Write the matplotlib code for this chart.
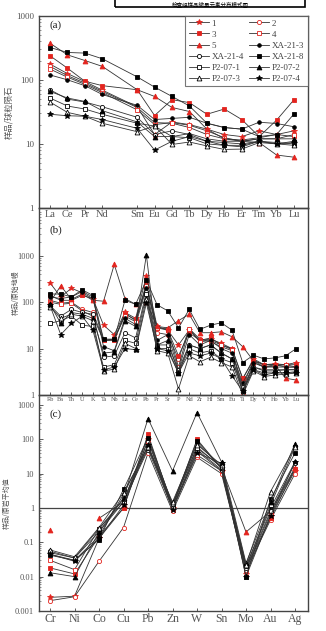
import numpy as np
import matplotlib
matplotlib.use('Agg')
import matplotlib.pyplot as plt
from matplotlib.patches import Rectangle

plt.rcParams['font.family'] = ['Liberation Serif', 'Noto Sans CJK SC', 'DejaVu Sans']

# ---- data ----
samples = ['1', '2', '3', '4', '5', 'XA-21-3', 'XA-21-4', 'XA-21-8',
           'P2-07-1', 'P2-07-2', 'P2-07-3', 'P2-07-4']

ree = ['La', 'Ce', 'Pr', 'Nd', 'Sm', 'Eu', 'Gd', 'Tb', 'Dy', 'Ho', 'Er', 'Tm', 'Yb', 'Lu']
ree_pos = [1, 2, 3, 4, 6, 7, 8, 9, 10, 11, 12, 13, 14, 15]

ree_vals = {
    '1':       [176, 125, 94, 69, 38, 14, 22, 20, 17, 14, 13, 16, 14, 16],
    '2':       [162, 116, 89, 66, 37, 21.5, 21, 18, 14, 12, 11.5, 12.5, 14, 13],
    '3':       [237, 152, 95, 81, 70, 27.7, 49, 44, 29, 35, 24, 13, 23.5, 49],
    '4':       [147, 110, 85, 63, 34, 20, 21.5, 19.5, 16, 12.5, 11, 12, 12, 14],
    '5':       [372, 245, 200, 162, 70, 55, 37, 32, 17, 12, 11, 10.5, 6.7, 6.2],
    'XA-21-3': [119, 100, 81, 59, 40, 24, 25, 26, 21, 18, 17, 21.8, 20.8, 18.5],
    'XA-21-4': [70, 50, 45, 38, 26, 14, 16, 14, 11, 10.5, 10, 11, 10, 11],
    'XA-21-8': [319, 267, 261, 213, 111, 77, 55, 39, 21, 18, 17, 13, 14, 29.5],
    'P2-07-1': [52, 39, 35, 29, 21, 19, 13, 12.5, 10, 9.5, 9, 11, 10.5, 10],
    'P2-07-2': [66, 52, 46, 33, 22, 13, 13, 14.5, 12, 11, 11, 12, 12, 12],
    'P2-07-3': [45, 31, 27, 21, 15.5, 19, 9.8, 10.7, 9.3, 8.2, 8.3, 10.5, 10, 9.5],
    'P2-07-4': [29, 27.5, 27, 24, 17.5, 8, 11, 13, 11, 9.5, 9.5, 11, 10, 10.5],
}

spider = ['Rb', 'Ba', 'Th', 'U', 'K', 'Ta', 'Nb', 'La', 'Ce', 'Pb', 'Pr', 'Sr',
          'P', 'Nd', 'Zr', 'Hf', 'Sm', 'Eu', 'Ti', 'Dy', 'Y', 'Ho', 'Yb', 'Lu']

spider_vals = {
    '1':       [260, 130, 200, 160, 120, 32, 20, 60, 45, 360, 30, 25, 12, 25, 15, 16, 13, 10, 2.2, 6, 4.5, 4.7, 4.5, 5],
    '2':       [110, 95, 100, 70, 60, 15, 16, 58, 40, 230, 22, 20, 6, 27, 16, 14, 11, 9, 1.5, 5.5, 4, 4.5, 4, 4],
    '3':       [140, 110, 110, 140, 120, 15, 15, 55, 42, 250, 28, 25, 7, 22, 15, 17, 12, 10, 2.3, 5.5, 4.5, 4.5, 4.5, 4.5],
    '4':       [100, 90, 95, 65, 50, 15, 16, 50, 38, 220, 28, 27, 4, 27, 14, 15, 12, 9.5, 1.1, 5, 4, 4.2, 4.5, 4],
    '5':       [100, 225, 115, 150, 110, 105, 650, 120, 90, 100, 30, 28, 40, 55, 22, 22, 23, 18, 11, 5.5, 4.5, 4.5, 2.3, 2.1],
    'XA-21-3': [130, 120, 130, 170, 130, 11, 9, 45, 33, 200, 15, 20, 3.5, 20, 12, 15, 10, 8, 1.8, 5, 4, 4, 4, 4],
    'XA-21-4': [85, 50, 70, 60, 55, 6.5, 7, 22, 17, 170, 12, 12, 3.5, 12, 10, 12, 8, 6, 1.5, 4, 3.3, 3.3, 3.5, 3.5],
    'XA-21-8': [150, 150, 130, 185, 140, 16, 16, 110, 90, 300, 88, 65, 28, 70, 26, 32, 36, 25, 5, 7.2, 6, 6.3, 7, 10],
    'P2-07-1': [35, 40, 50, 32, 30, 4, 4.5, 15, 13, 150, 10, 10, 3, 10, 8, 9, 6, 5, 1.2, 3.5, 3, 3, 3, 3.2],
    'P2-07-2': [90, 35, 60, 55, 45, 8, 8.5, 40, 30, 1050, 12, 15, 3, 12, 10, 12, 8, 6, 1.3, 4, 3.5, 3.5, 3.5, 3.5],
    'P2-07-3': [80, 45, 55, 50, 40, 3.3, 3.6, 13, 10, 120, 9, 8, 1.35, 7, 5.2, 6.5, 5, 4, 1.0, 3.3, 2.5, 2.7, 2.8, 3],
    'P2-07-4': [85, 20, 35, 50, 25, 3.5, 4, 10, 9.5, 95, 10, 9, 3, 8, 7, 8, 6, 2.6, 1.2, 3.5, 2.7, 3, 3, 3],
}

metals = ['Cr', 'Ni', 'Co', 'Cu', 'Pb', 'Zn', 'W', 'Sn', 'Mo', 'Au', 'Ag']

metal_vals = {
    '1':       [0.0025, 0.0027, 0.13, 1.0, 100, 1.0, 45, 12, 0.012, 0.6, 12],
    '2':       [0.002, 0.0026, 0.028, 0.27, 40, 0.8, 30, 10, 0.015, 0.45, 10],
    '3':       [0.018, 0.012, 0.15, 1.0, 140, 1.1, 100, 14, 0.018, 0.5, 14],
    '4':       [0.03, 0.016, 0.25, 1.5, 90, 1.0, 35, 12, 0.016, 0.7, 14],
    '5':       [0.23, np.nan, 0.5, 1.5, 120, 1.2, 60, 15, 0.2, 0.8, 15],
    'XA-21-3': [0.045, 0.03, 0.15, 2.5, 65, 1.1, 80, 15, 0.02, 1.0, 22],
    'XA-21-4': [0.055, 0.035, 0.2, 1.5, 50, 1.0, 50, 13, 0.018, 0.8, 20],
    'XA-21-8': [0.042, 0.03, 0.12, 3.5, 110, 1.3, 90, 15, 0.01, 1.8, 40],
    'P2-07-1': [0.05, 0.035, 0.25, 1.8, 55, 1.3, 55, 16, 0.02, 1.2, 60],
    'P2-07-2': [0.013, 0.01, 0.2, 2.0, 400, 12, 600, 22, 0.025, 1.5, 75],
    'P2-07-3': [0.06, 0.038, 0.27, 2.8, 60, 1.5, 70, 18, 0.022, 3.0, 60],
    'P2-07-4': [0.045, 0.028, 0.13, 1.2, 70, 0.9, 40, 20, 0.01, 0.6, 22],
}

red = '#e3241e'
styles = {
    '1':       dict(marker='*', mfc=red, mec=red, ms=4),
    '2':       dict(marker='o', mfc='white', mec=red, ms=3),
    '3':       dict(marker='s', mfc=red, mec=red, ms=3),
    '4':       dict(marker='s', mfc='white', mec=red, ms=3),
    '5':       dict(marker='^', mfc=red, mec=red, ms=3.5),
    'XA-21-3': dict(marker='o', mfc='black', mec='black', ms=2.6),
    'XA-21-4': dict(marker='o', mfc='white', mec='black', ms=3),
    'XA-21-8': dict(marker='s', mfc='black', mec='black', ms=3),
    'P2-07-1': dict(marker='s', mfc='white', mec='black', ms=3),
    'P2-07-2': dict(marker='^', mfc='black', mec='black', ms=3.5),
    'P2-07-3': dict(marker='^', mfc='white', mec='black', ms=3.5),
    'P2-07-4': dict(marker='*', mfc='black', mec='black', ms=4),
}

fig = plt.figure(figsize=(3.26, 6.31), dpi=100)
L, R = 39 / 326, 308 / 326
H = 631
def box(top, bottom):
    return [L, 1 - bottom / H, R - L, (bottom - top) / H]

ax1 = fig.add_axes(box(15.7, 208))
ax2 = fig.add_axes(box(208, 395))
ax3 = fig.add_axes(box(395, 611))

def draw(ax, x, vals):
    for s in samples:
        st = styles[s]
        ax.plot(x, vals[s], color='#333333', lw=0.6, marker=st['marker'],
                mfc=st['mfc'], mec=st['mec'], ms=st['ms'], mew=0.6, label=s)

draw(ax1, ree_pos, ree_vals)
draw(ax2, np.arange(1, len(spider) + 1), spider_vals)
draw(ax3, np.arange(1, len(metals) + 1), metal_vals)

for ax in (ax1, ax2, ax3):
    ax.set_yscale('log')
    ax.set_facecolor('none')
    for sp in ax.spines.values():
        sp.set_linewidth(1.0)
        sp.set_color('#444444')
    ax.tick_params(which='both', direction='in', right=False, top=False,
                   colors='#444444', labelcolor='#555555')
    ax.tick_params(which='major', length=3, width=0.6, labelsize=6.5)
    ax.tick_params(which='minor', length=1.5, width=0.4)
    ax.yaxis.set_major_formatter(matplotlib.ticker.FuncFormatter(lambda v, p: '%g' % v))
    ax.yaxis.set_minor_formatter(matplotlib.ticker.NullFormatter())

# panel a
ax1.set_xlim(0.37, 15.8)
ax1.set_ylim(1, 1000)
ax1.set_xticks(ree_pos)
ax1.set_xticklabels(ree)
ax1.tick_params(axis='x', labelsize=7.5, pad=1.5, length=2.5)
ax1.set_ylabel('样品/球粒陨石', family=['Noto Sans CJK SC'], fontsize=6, color='#555555', labelpad=2)
ax1.text(0.04, 0.935, '(a)', transform=ax1.transAxes, fontsize=8, color='#222222')

h, l = ax1.get_legend_handles_labels()
order = [0, 2, 4, 6, 8, 10, 1, 3, 5, 7, 9, 11]
leg = ax1.legend([h[i] for i in order], [l[i] for i in order], ncol=2, loc='upper right',
                 fontsize=6.5, frameon=True, fancybox=False, edgecolor='#555555',
                 handlelength=2.2, columnspacing=0.6, handletextpad=0.3,
                 labelspacing=0.3, borderpad=0.4, borderaxespad=0.0)
leg.get_frame().set_linewidth(0.8)
for t in leg.get_texts():
    t.set_color('#444444')

# panel b
ax2.set_xlim(-0.03, 25.1)
ax2.set_ylim(1, 10 ** 4.03)
ax2.set_yticks([1, 10, 100, 1000])
ax2.set_xticks(np.arange(1, len(spider) + 1))
ax2.set_xticklabels(spider)
ax2.tick_params(axis='x', labelsize=4.5, pad=1.5, length=2)
ax2.tick_params(axis='y', labelsize=6)
ax2.set_ylabel('样品/原始地幔', family=['Noto Sans CJK SC'], fontsize=5, color='#555555', labelpad=3)
ax2.yaxis.set_label_coords(-0.07, 0.55)
ax2.text(0.04, 0.87, '(b)', transform=ax2.transAxes, fontsize=8, color='#222222')

# panel c
ax3.set_xlim(0.55, 11.53)
ax3.set_ylim(0.001, 10 ** 3.29)
ax3.set_yticks([0.001, 0.01, 0.1, 1, 10, 100, 1000])
ax3.set_xticks(np.arange(1, len(metals) + 1))
ax3.set_xticklabels(metals)
ax3.tick_params(axis='x', labelsize=8.5, pad=1.5, length=2)
ax3.tick_params(axis='y', labelsize=6)
ax3.axhline(1, color='#444444', lw=0.9, zorder=0)
ax3.set_ylabel('样品/原岩平均值', family=['Noto Sans CJK SC'], fontsize=5, color='#555555', labelpad=3)
ax3.text(0.04, 0.9, '(c)', transform=ax3.transAxes, fontsize=8, color='#222222')

# caption box at the very top
fig.patches.append(Rectangle((115 / 326, 1 - 7 / H), 190 / 326, 0.05, transform=fig.transFigure,
                             fill=False, edgecolor='black', lw=1.2))
fig.text(210 / 326, 1 - 1.5 / H, '检查组样品微量元素分布模式图', family=['Noto Sans CJK SC'],
         fontsize=4, ha='center', va='top', color='black')

fig.savefig('out.png', dpi=100)
